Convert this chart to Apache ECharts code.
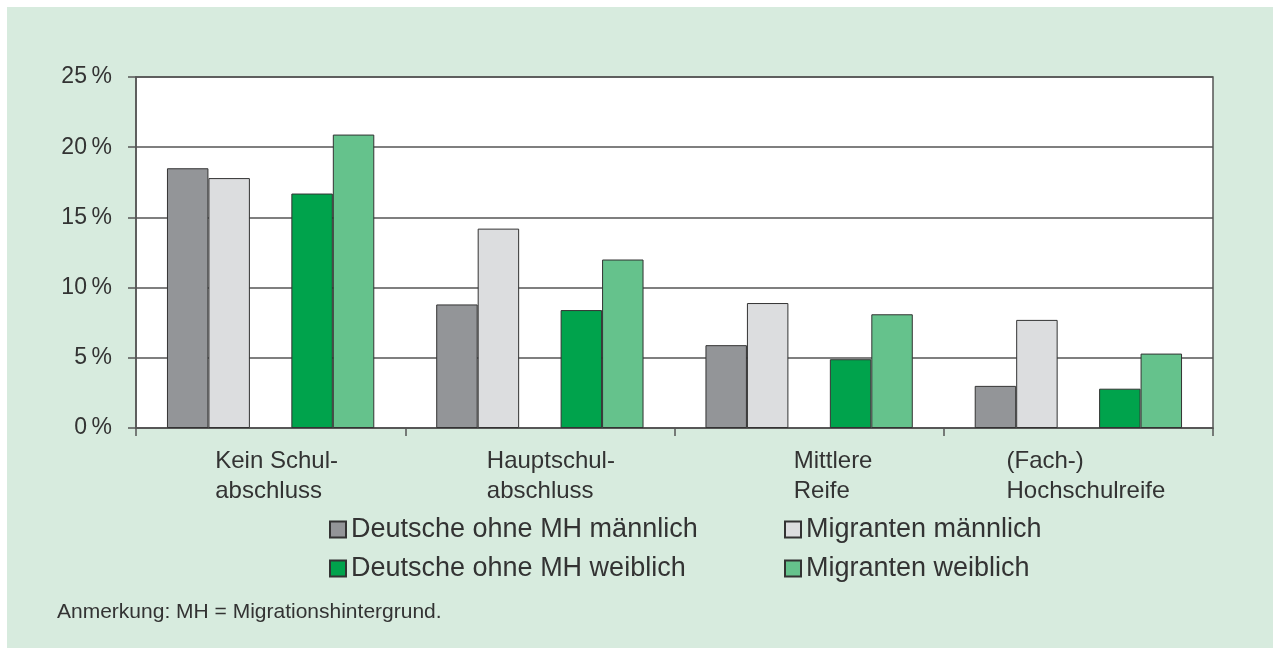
<!DOCTYPE html>
<html>
<head>
<meta charset="utf-8">
<script src="https://cdn.jsdelivr.net/npm/echarts@6/dist/echarts.min.js"></script>
<style>
  html, body { margin: 0; padding: 0; background: #fff; }
  #chart { position: absolute; left: 7px; top: 7px; width: 1266px; height: 641px; background: #d7ebde; }
</style>
</head>
<body>
<div id="chart"></div>
<script>
  // Anteile je Abschluss (in %)
  const categories = ['Kein Schul-\nabschluss', 'Hauptschul-\nabschluss', 'Mittlere\nReife', '(Fach-)\nHochschulreife']
  const deutscheMaennlich = [18.5, 8.8, 5.9, 3.0]
  const migrantenMaennlich = [17.8, 14.2, 8.9, 7.7]
  const deutscheWeiblich = [16.7, 8.4, 4.9, 2.8]
  const migrantenWeiblich = [20.9, 12.0, 8.1, 5.3]
  const seriesNames = ['Deutsche ohne MH männlich', 'Migranten männlich', 'Deutsche ohne MH weiblich', 'Migranten weiblich']

  const font = '"Liberation Sans", Arial, sans-serif'
  const textColor = '#333'
  const lineColor = '#555'
  // left padding per label, shifts the left-aligned text block a bit to the right
  const labelPad = [12, 22, 48, 15]

  let rich = {}
  labelPad.forEach(function (p, i) {
    rich['l' + i] = {align: 'left', padding: [0, 0, 0, p], fontSize: 24, lineHeight: 30, color: textColor, fontFamily: font}
  })

  let chart = echarts.init(document.getElementById('chart'))

  function bar(name, data, color) {
    return {
      name: name,
      type: 'bar',
      data: data,
      barGap: 0,
      barCategoryGap: '23%',
      itemStyle: {color: color, borderColor: '#333', borderWidth: 1}
    }
  }

  let legendText = {fontSize: 27, lineHeight: 26, color: textColor, fontFamily: font}

  chart.setOption({
    animation: false,
    textStyle: {fontFamily: font, color: textColor},
    grid: {
      left: 129, top: 70, right: 60, bottom: 220,
      show: true, backgroundColor: '#fff', borderColor: lineColor, borderWidth: 1.5
    },
    legend: [
      {
        data: [seriesNames[0], seriesNames[2]],
        orient: 'vertical', left: 317, top: 504, itemGap: 12,
        icon: 'rect', itemWidth: 16, itemHeight: 16,
        textStyle: legendText
      },
      {
        data: [seriesNames[1], seriesNames[3]],
        orient: 'vertical', left: 772, top: 504, itemGap: 12,
        icon: 'rect', itemWidth: 16, itemHeight: 16,
        textStyle: legendText
      }
    ],
    title: {
      text: 'Anmerkung: MH = Migrationshintergrund.',
      left: 45, top: 590,
      textStyle: {fontSize: 21, fontWeight: 'normal', color: textColor, fontFamily: font}
    },
    xAxis: {
      type: 'category',
      data: categories,
      axisLine: {lineStyle: {color: lineColor, width: 1.5}},
      axisTick: {show: true, length: 8, lineStyle: {color: lineColor, width: 1.5}},
      axisLabel: {
        margin: 18,
        formatter: function (value, index) {
          return value.split('\n').map(function (line) {
            return '{l' + index + '|' + line + '}'
          }).join('\n')
        },
        rich: rich
      }
    },
    yAxis: {
      type: 'value',
      min: 0, max: 25, interval: 5,
      axisLine: {show: true, lineStyle: {color: lineColor, width: 1.5}},
      axisTick: {show: true, length: 8, lineStyle: {color: lineColor, width: 1.5}},
      splitLine: {lineStyle: {color: lineColor, width: 1.5}},
      axisLabel: {
        margin: 24, fontSize: 23, color: textColor, fontFamily: font,
        formatter: function (v) { return v + '\u2009%' }
      }
    },
    series: [
      bar(seriesNames[0], deutscheMaennlich, '#939598'),
      bar(seriesNames[1], migrantenMaennlich, '#dcdddf'),
      // leerer Platz zwischen den Gruppen
      {name: 'gap', type: 'bar', data: [null, null, null, null], barGap: 0, barCategoryGap: '23%', silent: true},
      bar(seriesNames[2], deutscheWeiblich, '#00a34c'),
      bar(seriesNames[3], migrantenWeiblich, '#65c28c')
    ]
  })
</script>
</body>
</html>
